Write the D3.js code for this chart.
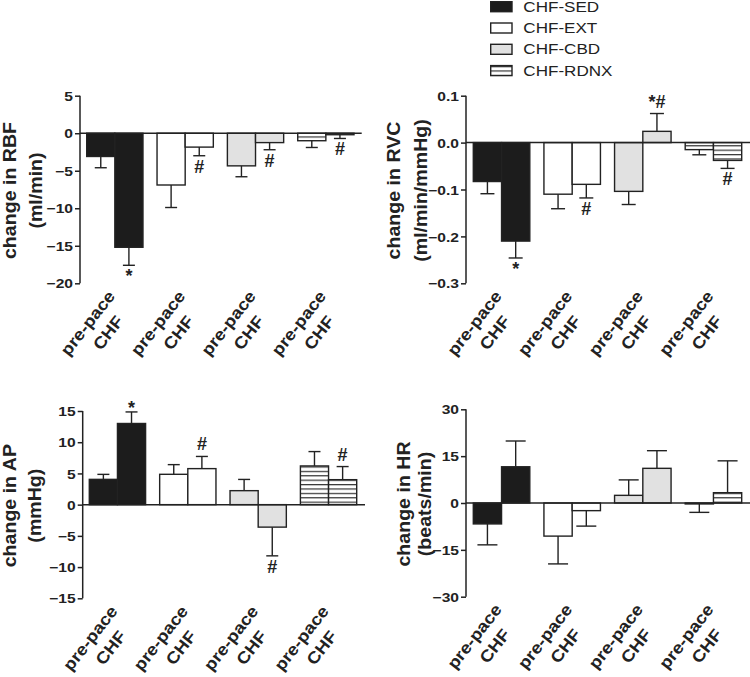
<!DOCTYPE html>
<html><head><meta charset="utf-8">
<script src="https://cdn.jsdelivr.net/npm/d3@7"></script>
<style>
html,body{margin:0;padding:0;background:#fff;}
svg{display:block;font-family:"Liberation Sans",Arial,Helvetica,sans-serif;}
</style></head>
<body>
<svg id="chart" width="750" height="677"></svg>
<script>
// ---------- data ----------
const groups = ["CHF-SED", "CHF-EXT", "CHF-CBD", "CHF-RDNX"];
const conditions = ["pre-pace", "CHF"];

// order: SED pre, SED CHF, EXT pre, EXT CHF, CBD pre, CBD CHF, RDNX pre, RDNX CHF
const rbfMean = [-3.1, -15.2, -6.9, -1.85, -4.35, -1.25, -1.0, -0.2];
const rbfErr  = [1.5, 2.4, 3.0, 1.15, 1.45, 0.95, 0.9, 0.5];
const rbfMarks = ["", "*", "", "#", "", "#", "", "#"];

const rvcMean = [-0.083, -0.21, -0.11, -0.089, -0.104, 0.024, -0.015, -0.038];
const rvcErr  = [0.026, 0.036, 0.031, 0.029, 0.028, 0.038, 0.011, 0.017];
const rvcMarks = ["", "*", "", "#", "", "*#", "", "#"];

const apMean = [4.05, 13.0, 4.86, 5.77, 2.24, -3.6, 6.2, 4.0];
const apErr  = [0.8, 1.85, 1.55, 1.95, 1.8, 4.6, 2.3, 2.1];
const apMarks = ["", "*", "", "#", "", "#", "", "#"];

const hrMean = [-6.7, 11.6, -10.6, -2.45, 2.45, 11.1, -0.3, 3.3];
const hrErr  = [6.7, 8.25, 8.9, 4.95, 4.95, 5.65, 2.7, 10.2];
const hrMarks = ["", "", "", "", "", "", "", ""];

const rbfTicks = [5, 0, -5, -10, -15, -20];
const rvcTicks = [0.1, 0.0, -0.1, -0.2, -0.3];
const apTicks = [15, 10, 5, 0, -5, -10, -15];
const hrTicks = [30, 15, 0, -15, -30];

const titles = [
  ["change in RBF", "(ml/min)"],
  ["change in RVC", "(ml/min/mmHg)"],
  ["change in AP", "(mmHg)"],
  ["change in HR", "(beats/min)"]
];

// ---------- layout ----------
const panels = [
  {mean: rbfMean, err: rbfErr, marks: rbfMarks, ticks: rbfTicks, fmt: d3.format("d"), title: titles[0],
   domain: [-20, 5], axisX: 80, top: 95.7, bottom: 283.3, xEnd: 361.7, bars: [86.7, 354], cap: 12, lab: [-64, -38.5]},
  {mean: rvcMean, err: rvcErr, marks: rvcMarks, ticks: rvcTicks, fmt: d3.format(".1f"), title: titles[1],
   domain: [-0.3, 0.1], axisX: 466, top: 95.7, bottom: 283.3, xEnd: 750, bars: [473.3, 741.7], cap: 14, lab: [-66.5, -39]},
  {mean: apMean, err: apErr, marks: apMarks, ticks: apTicks, fmt: d3.format("d"), title: titles[2],
   domain: [-15, 15], axisX: 82.7, top: 411, bottom: 598.3, xEnd: 365, bars: [89.3, 356.7], cap: 12, lab: [-66.5, -41.3]},
  {mean: hrMean, err: hrErr, marks: hrMarks, ticks: hrTicks, fmt: d3.format("d"), title: titles[3],
   domain: [-30, 30], axisX: 466, top: 409.3, bottom: 596.7, xEnd: 750, bars: [473.3, 741.7], cap: 20, lab: [-56.5, -35]}
];

const INK = "#222";
const fills = ["#1c1c1c", "#ffffff", "#e1e1e1", "url(#stripes)"];

const svg = d3.select("#chart");
const defs = svg.append("defs");
const pat = defs.append("pattern").attr("id", "stripes")
  .attr("patternUnits", "userSpaceOnUse").attr("width", 8).attr("height", 4.4);
pat.append("rect").attr("width", 8).attr("height", 4.4).attr("fill", "#fff");
pat.append("rect").attr("y", 0).attr("width", 8).attr("height", 1.2).attr("fill", "#333");

panels.forEach((p) => {
  const g = svg.append("g");
  const y = d3.scaleLinear().domain(p.domain).range([p.bottom, p.top]);
  const x0 = d3.scaleBand().domain(groups).range(p.bars).paddingInner(0.2).paddingOuter(0);
  const x1 = d3.scaleBand().domain(conditions).range([0, x0.bandwidth()]).padding(0);

  const rows = [];
  groups.forEach((grp, gi) => conditions.forEach((c, ci) => {
    const i = gi * 2 + ci;
    rows.push({grp, gi, c, v: p.mean[i], e: p.err[i], m: p.marks[i]});
  }));

  // y axis
  const axis = d3.axisLeft(y).tickValues(p.ticks).tickFormat(p.fmt).tickSize(5).tickPadding(2);
  const ag = g.append("g").attr("transform", `translate(${p.axisX},0)`).call(axis);
  ag.select(".domain").attr("stroke", INK).attr("stroke-width", 1.5).attr("d", `M0,${p.top}V${p.bottom}`);
  ag.selectAll(".tick line").attr("stroke", INK).attr("stroke-width", 1.5);
  ag.selectAll(".tick text")
    .attr("font-size", 13).attr("font-weight", "bold").attr("fill", INK)
    .attr("font-family", "'Liberation Sans', Arial, sans-serif")
    .attr("x", null).attr("dy", "0.36em")
    .attr("transform", "translate(-7,0) scale(1.2,1)");

  // bars
  g.selectAll("rect.bar").data(rows).enter().append("rect").attr("class", "bar")
    .attr("x", d => x0(d.grp) + x1(d.c))
    .attr("width", x1.bandwidth())
    .attr("y", d => Math.min(y(d.v), y(0)))
    .attr("height", d => Math.max(Math.abs(y(d.v) - y(0)), 0.01))
    .attr("fill", d => fills[d.gi])
    .attr("stroke", INK).attr("stroke-width", 1.4);

  // error bars (one-sided, away from zero)
  const eg = g.selectAll("g.err").data(rows).enter().append("g").attr("class", "err");
  const cx = d => x0(d.grp) + x1(d.c) + x1.bandwidth() / 2;
  const endV = d => d.v >= 0 ? d.v + d.e : d.v - d.e;
  eg.append("line").attr("x1", cx).attr("x2", cx)
    .attr("y1", d => y(d.v)).attr("y2", d => y(endV(d)))
    .attr("stroke", INK).attr("stroke-width", 1.4);
  eg.append("line").attr("x1", d => cx(d) - p.cap / 2).attr("x2", d => cx(d) + p.cap / 2)
    .attr("y1", d => y(endV(d))).attr("y2", d => y(endV(d)))
    .attr("stroke", INK).attr("stroke-width", 1.4);

  // zero line
  g.append("line").attr("x1", p.axisX).attr("x2", p.xEnd).attr("y1", y(0)).attr("y2", y(0))
    .attr("stroke", INK).attr("stroke-width", 1.5);

  // significance marks
  g.selectAll("text.mark").data(rows.filter(d => d.m)).enter().append("text").attr("class", "mark")
    .attr("x", cx)
    .attr("y", d => {
      const ye = y(endV(d));
      if (d.v < 0) return ye + 17;
      return d.m === "*" ? ye + 2 : ye - 6;
    })
    .attr("text-anchor", "middle").attr("font-size", 18).attr("font-weight", "bold").attr("fill", INK)
    .text(d => d.m);

  // x labels: two lines per group, rotated
  groups.forEach(grp => {
    const lx = x0(grp) + x0.bandwidth() / 2 + 1;
    const lg = g.append("g").attr("transform", `translate(${lx},${p.bottom + 13}) rotate(-52)`);
    const t1 = lg.append("text").attr("text-anchor", "end").attr("font-size", 16.5).attr("font-weight", "bold")
      .attr("fill", INK).attr("transform", "scale(1.12,1)").text(conditions[0]);
    const L1 = t1.node().getComputedTextLength() * 1.12;
    lg.append("text").attr("text-anchor", "middle").attr("font-size", 16.5).attr("font-weight", "bold")
      .attr("fill", INK).attr("transform", `translate(${-L1 / 2 + 5},22) scale(1.12,1)`).text(conditions[1]);
  });

  // y title
  const yc = (p.top + p.bottom) / 2 + 1;
  p.title.forEach((t, li) => {
    g.append("text")
      .attr("transform", `translate(${p.axisX + p.lab[li]},${yc}) rotate(-90) scale(1.12,1)`)
      .attr("text-anchor", "middle").attr("font-size", 17.5).attr("font-weight", "bold").attr("fill", INK)
      .text(t);
  });
});

// legend
const lg = svg.append("g");
const legY0 = 6.7, legStep = 21.3;
groups.forEach((grp, i) => {
  const cy = legY0 + i * legStep;
  lg.append("rect").attr("x", 490.7).attr("y", cy - 5).attr("width", 21.3).attr("height", 10)
    .attr("fill", fills[i]).attr("stroke", INK).attr("stroke-width", 1.4);
  lg.append("text").attr("transform", `translate(523.3,${cy + 5}) scale(1.22,1)`)
    .attr("font-size", 14).attr("fill", "#222").text(grp);
});
</script>
</body></html>
